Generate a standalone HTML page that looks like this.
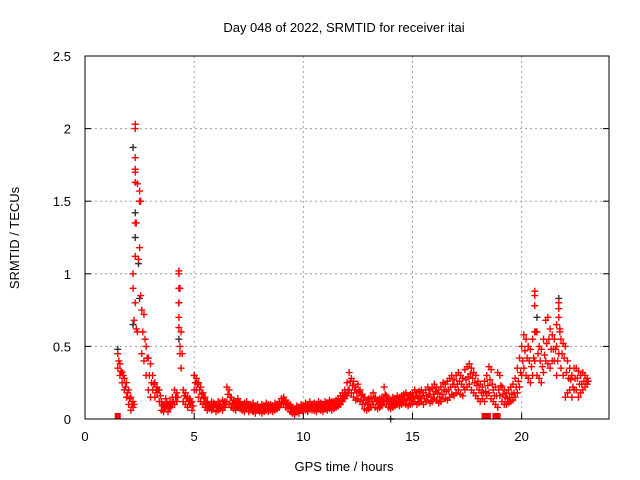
<!DOCTYPE html>
<html><head><meta charset="utf-8"><style>
body{margin:0;background:#fff}
svg{display:block;font-family:"Liberation Sans",sans-serif}
</style></head><body>
<svg id="chart" width="640" height="480" viewBox="0 0 640 480" xmlns="http://www.w3.org/2000/svg">
<rect width="640" height="480" fill="#fff"/>
<text x="344" y="32" font-size="13" text-anchor="middle" fill="#000">Day 048 of 2022, SRMTID for receiver itai</text>
<text x="344" y="471" font-size="13" text-anchor="middle">GPS time / hours</text>
<text x="19" y="238" font-size="13" text-anchor="middle" transform="rotate(-90 19 238)">SRMTID / TECUs</text>
<g id="grid"></g><g id="marks"></g><g id="axes"></g>
</svg>
<script>
const xTicks=[0,5,10,15,20];
const yTicks=[0,0.5,1,1.5,2,2.5];
const yTickLabels=["0","0.5","1","1.5","2","2.5"];
const t0=1.5, dt=0.1;
const tecA=[0.45,0.38,0.32,0.28,0.25,0.2,0.15,0.12,2.03,1.62,
1.57,0.75,0.72,0.5,0.42,0.38,0.3,0.25,0.22,0.2,
0.12,0.1,0.14,0.1,0.12,0.15,0.2,0.18,1.02,0.6,
0.2,0.18,0.15,0.14,0.12,0.3,0.28,0.25,0.22,0.18,
0.15,0.12,0.1,0.12,0.11,0.1,0.12,0.1,0.13,0.12,
0.22,0.2,0.15,0.13,0.12,0.14,0.12,0.1,0.11,0.12,
0.1,0.1,0.11,0.09,0.1,0.08,0.1,0.09,0.11,0.1,
0.1,0.09,0.11,0.1,0.12,0.14,0.15,0.13,0.11,0.1,
0.08,0.07,0.09,0.08,0.1,0.09,0.11,0.1,0.12,0.1,
0.11,0.1,0.12,0.11,0.1,0.12,0.11,0.13,0.12,0.12,
0.13,0.14,0.16,0.18,0.2,0.25,0.32,0.28,0.26,0.22,
0.24,0.2,0.17,0.15,0.13,0.14,0.15,0.18,0.15,0.13,
0.14,0.15,0.22,0.16,0.14,0.13,0.15,0.14,0.16,0.15,
0.16,0.17,0.18,0.16,0.17,0.18,0.2,0.18,0.19,0.2,
0.18,0.2,0.22,0.2,0.21,0.24,0.22,0.2,0.22,0.25,
0.24,0.26,0.28,0.3,0.27,0.3,0.32,0.3,0.28,0.34,
0.36,0.38,0.35,0.32,0.3,0.26,0.24,0.22,0.26,0.3,
0.36,0.34,0.2,0.22,0.32,0.3,0.22,0.2,0.18,0.2,
0.22,0.24,0.28,0.35,0.42,0.5,0.58,0.55,0.5,0.48,
0.55,0.88,0.6,0.5,0.48,0.55,0.68,0.7,0.62,0.58,
0.55,0.5,0.8,0.55,0.52,0.5,0.4,0.35,0.3,0.35,
0.35,0.33,0.3,0.32,0.3,0.28];
const tecB=[0.35,0.3,0.25,0.2,0.15,0.1,0.06,0.08,1.7,0.6,
1.18,0.45,0.4,0.3,0.2,0.15,0.2,0.15,0.18,0.12,
0.06,0.05,0.08,0.05,0.08,0.1,0.1,0.12,0.8,0.35,
0.12,0.1,0.08,0.1,0.06,0.2,0.2,0.15,0.12,0.1,
0.08,0.06,0.07,0.06,0.08,0.05,0.06,0.07,0.06,0.08,
0.12,0.1,0.08,0.07,0.06,0.08,0.07,0.06,0.05,0.07,
0.05,0.06,0.05,0.04,0.06,0.05,0.04,0.05,0.06,0.05,
0.06,0.05,0.06,0.07,0.08,0.1,0.1,0.08,0.07,0.05,
0.04,0.03,0.05,0.04,0.06,0.05,0.06,0.05,0.07,0.06,
0.06,0.05,0.07,0.06,0.05,0.07,0.06,0.07,0.06,0.07,
0.08,0.09,0.1,0.12,0.14,0.16,0.2,0.18,0.15,0.13,
0.14,0.12,0.1,0.07,0.06,0.07,0.08,0.1,0.08,0.07,
0.08,0.09,0.12,0.1,0.08,0.07,0.08,0.09,0.1,0.09,
0.1,0.11,0.1,0.09,0.1,0.11,0.12,0.1,0.11,0.12,
0.1,0.12,0.13,0.11,0.12,0.14,0.13,0.11,0.12,0.14,
0.14,0.13,0.15,0.17,0.16,0.18,0.2,0.17,0.16,0.2,
0.22,0.24,0.2,0.18,0.16,0.14,0.12,0.14,0.12,0.16,
0.18,0.14,0.12,0.1,0.08,0.16,0.12,0.1,0.1,0.11,
0.12,0.13,0.15,0.18,0.22,0.3,0.35,0.3,0.28,0.25,
0.3,0.4,0.3,0.28,0.25,0.32,0.4,0.38,0.35,0.4,
0.4,0.3,0.45,0.35,0.3,0.15,0.18,0.2,0.15,0.2,
0.2,0.15,0.18,0.2,0.22,0.24];
const tecM=[0.4,0.33,0.3,0.22,0.18,0.14,0.1,0.1,1.35,1.1,
1.5,0.6,0.55,0.42,0.3,0.25,0.24,0.2,0.2,0.16,
0.09,0.08,0.11,0.07,0.1,0.12,0.15,0.15,0.9,0.45,
0.16,0.14,0.12,0.12,0.09,0.25,0.24,0.2,0.17,0.14,
0.11,0.09,0.08,0.09,0.1,0.08,0.09,0.08,0.1,0.1,
0.17,0.15,0.11,0.1,0.09,0.11,0.1,0.08,0.08,0.1,
0.08,0.08,0.08,0.07,0.08,0.07,0.07,0.07,0.08,0.08,
0.08,0.07,0.08,0.09,0.1,0.12,0.12,0.1,0.09,0.08,
0.06,0.05,0.07,0.06,0.08,0.07,0.08,0.08,0.09,0.08,
0.08,0.08,0.09,0.08,0.08,0.1,0.09,0.1,0.09,0.1,
0.1,0.11,0.13,0.15,0.17,0.2,0.26,0.23,0.2,0.18,
0.19,0.16,0.13,0.11,0.1,0.1,0.12,0.14,0.12,0.1,
0.11,0.12,0.17,0.13,0.11,0.1,0.12,0.11,0.13,0.12,
0.13,0.14,0.14,0.13,0.14,0.15,0.16,0.14,0.15,0.16,
0.14,0.16,0.17,0.15,0.17,0.19,0.18,0.15,0.17,0.2,
0.19,0.2,0.22,0.24,0.22,0.24,0.26,0.24,0.22,0.27,
0.29,0.31,0.28,0.25,0.23,0.2,0.18,0.18,0.19,0.23,
0.27,0.24,0.16,0.16,0.2,0.23,0.17,0.15,0.14,0.15,
0.17,0.18,0.22,0.26,0.32,0.4,0.47,0.42,0.4,0.36,
0.42,0.6,0.45,0.4,0.36,0.44,0.52,0.55,0.48,0.48,
0.48,0.4,0.62,0.45,0.42,0.32,0.28,0.27,0.22,0.28,
0.28,0.24,0.24,0.26,0.26,0.26];
const spikeHours=[2.3,2.3,2.3,2.3,2.3,2.3,2.2,2.2,2.3,2.25,2.35,2.5,2.55,4.3,4.3,4.3,4.3,4.3,4.35,4.35,20.6,20.6,20.6,21.7,21.7,21.6,21.75];
const spikeTec=[2.0,1.8,1.72,1.63,1.35,1.12,1.0,0.9,0.8,0.68,0.62,1.5,0.85,1.0,0.9,0.8,0.7,0.63,0.5,0.45,0.85,0.78,0.6,0.76,0.7,0.65,0.6];
const darkHours=[2.2,2.3,2.3,2.5,2.45,2.5,2.2,4.3,21.7,20.7,1.5,5.0,14.0];
const darkTec=[1.87,1.42,1.25,1.5,1.07,0.83,0.65,0.55,0.83,0.7,0.48,0.3,0.0];
const zeroHours=[1.5,18.3,18.45,18.8,18.9];

const L=85,R=609,T=56,B=419,XMAX=24,YMAX=2.5;
const sx=v=>L+v/XMAX*(R-L);
const sy=v=>B-v/YMAX*(B-T);
const NS="http://www.w3.org/2000/svg";
function mk(tag,attrs,parent){const e=document.createElementNS(NS,tag);for(const k in attrs)e.setAttribute(k,attrs[k]);parent.appendChild(e);return e;}
const grid=document.getElementById('grid'),marks=document.getElementById('marks'),axes=document.getElementById('axes');
xTicks.forEach(t=>{
  if(t>0&&t<XMAX){const g=mk('line',{x1:sx(t),x2:sx(t),y1:T,y2:B,stroke:'#a0a0a0','stroke-dasharray':'2,3'},grid);
  
  }
  const tk=mk('line',{x1:sx(t),x2:sx(t),y1:B,y2:B-6,stroke:'#000'},axes);
  
  
  const tx=mk('text',{x:sx(t),y:B+22,'font-size':13,'text-anchor':'middle'},axes);tx.textContent=t;
  
  
});
yTicks.forEach((t,i)=>{
  if(t>0&&t<YMAX){const g=mk('line',{x1:L,x2:R,y1:sy(t),y2:sy(t),stroke:'#a0a0a0','stroke-dasharray':'2,3'},grid);
  
  }
  const tk=mk('line',{x1:L,x2:L+6,y1:sy(t),y2:sy(t),stroke:'#000'},axes);
  
  
  const tk2=mk('line',{x1:R,x2:R-6,y1:sy(t),y2:sy(t),stroke:'#000'},axes);
  
  
  const tx=mk('text',{x:L-14,y:sy(t)+5,'font-size':13,'text-anchor':'end'},axes);tx.textContent=yTickLabels[i];
  
  
});
const fr=mk('rect',{x:L,y:T,width:R-L,height:B-T,fill:'none',stroke:'#000','stroke-width':1},axes);


function plus(x,y,col){const p=mk('path',{d:`M${x-3.5},${y}h7M${x},${y-3.5}v7`,stroke:col,'stroke-width':1.4,fill:'none'},marks);
  
  }
darkHours.forEach((h,i)=>plus(sx(h),sy(darkTec[i]),'#333'));
tecA.forEach((v,i)=>{const h=t0+i*dt;plus(sx(h),sy(v),'#ff0000');plus(sx(h),sy(tecB[i]),'#ff0000');plus(sx(h+dt/2),sy(tecM[i]),'#ff0000');});
spikeHours.forEach((h,i)=>plus(sx(h),sy(spikeTec[i]),'#ff0000'));
zeroHours.forEach(h=>{const r=mk('rect',{x:sx(h)-3,y:B-6,width:6,height:6,fill:'#ff0000'},marks);
  
  });
</script>
</body></html>
